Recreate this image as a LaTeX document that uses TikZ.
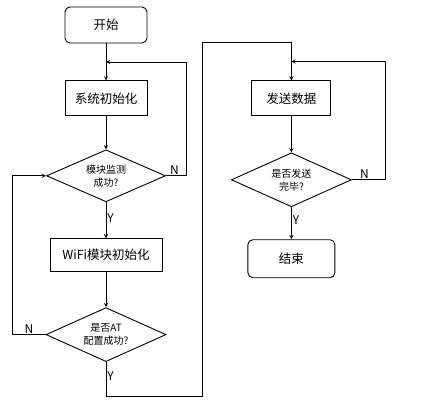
\documentclass[tikz,border=0pt]{standalone}
\usepackage{fontspec}
\setmainfont{Noto Sans CJK SC}
\usetikzlibrary{shapes.geometric, arrows, positioning, calc}

\begin{document}
\begin{tikzpicture}[
    node distance=35pt,
    line width=0.9pt,
    term/.style={draw, rounded corners=5pt, minimum width=82pt, minimum height=36pt, align=center, font=\fontsize{12.5}{15}\selectfont},
    box/.style={draw, minimum height=35pt, align=center, font=\fontsize{12.5}{15}\selectfont},
    decision/.style={draw, diamond, aspect=2.2, inner sep=0pt, minimum width=120pt, minimum height=54pt, align=center, font=\fontsize{10}{13}\selectfont},
    lbl/.style={font=\fontsize{12}{14}\selectfont, inner sep=1pt},
    arrow/.style={->, >=stealth}
]
    \useasboundingbox (0,0) rectangle (429pt,-400pt);

    \node[term] (start) at (106pt,-25pt) {开始};
    \node[box, minimum width=82pt, below=37pt of start] (init) {系统初始化};
    \node[decision, minimum width=119pt, minimum height=52pt, below=33pt of init] (chk) {模块监测\\成功?};
    \node[box, minimum width=112pt, minimum height=33pt, below=36pt of chk] (wifi) {WiFi模块初始化};
    \node[decision, below=35pt of wifi] (at) {是否AT\\配置成功?};
    \node[box, minimum width=79pt, right=104pt of init] (send) {发送数据};
    \node[decision, below=36pt of send] (done) {是否发送\\完毕?};
    \node[term, minimum width=87pt, minimum height=38pt, below=32pt of done] (end) {结束};

    \coordinate (back1) at ($(start.south)!0.5!(init.north)$);
    \coordinate (back2) at ($(send.north)+(0,19pt)$);

    \draw[arrow] (start) -- (init);
    \draw[arrow] (init) -- (chk);
    \draw[arrow] (chk) -- node[lbl, right, pos=0.45] {Y} (wifi);
    \draw[arrow] (wifi) -- (at);
    \draw[arrow] (chk.east) -- node[lbl, above, pos=0.43] {N} ++(20pt,0) |- (back1);
    \draw[arrow] (at.west) -- node[lbl, above] {N} ++(-33pt,0) |- (chk.west);
    \draw[arrow] (at.south) -- node[lbl, right, pos=0.4] {Y} ++(0,-34pt) -- ++(96pt,0) |- ($(send.north)+(0,38pt)$) -- (send.north);

    \draw[arrow] (send) -- (done);
    \draw[arrow] (done) -- node[lbl, right, pos=0.4] {Y} (end);
    \draw[arrow] (done.east) -- node[lbl, above, pos=0.37] {N} ++(34pt,0) |- (back2);
\end{tikzpicture}
\end{document}
